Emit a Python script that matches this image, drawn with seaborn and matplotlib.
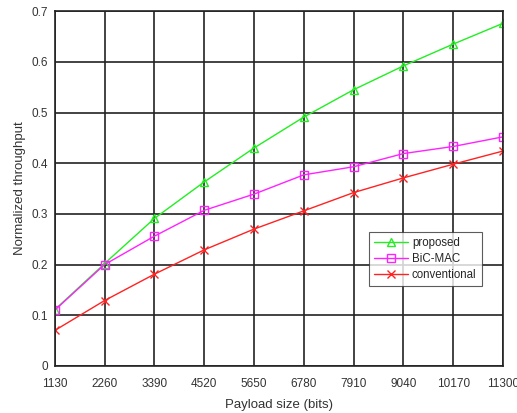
import numpy as np
import pandas as pd
import matplotlib
matplotlib.use("Agg")
import matplotlib.pyplot as plt
import seaborn as sns

# data
payload = [1130, 2260, 3390, 4520, 5650, 6780, 7910, 9040, 10170, 11300]
proposed = [0.111, 0.202, 0.291, 0.363, 0.430, 0.491, 0.545, 0.592, 0.635, 0.676]
bicmac = [0.110, 0.200, 0.256, 0.307, 0.339, 0.377, 0.393, 0.419, 0.433, 0.452]
conventional = [0.070, 0.129, 0.181, 0.229, 0.270, 0.306, 0.342, 0.371, 0.398, 0.424]

series = [
    ("proposed", proposed, "#22ee22", "^"),
    ("BiC-MAC", bicmac, "#ff22ff", "s"),
    ("conventional", conventional, "#ff2222", "x"),
]

sns.set_style("white")
plt.rcParams["font.family"] = ["Liberation Sans", "DejaVu Sans"]

fig = plt.figure(figsize=(5.17, 4.13), dpi=100)
ax = fig.add_axes([0.106, 0.114, 0.867, 0.859])

for name, vals, color, mk in series:
    df = pd.DataFrame({"payload": payload, "throughput": vals})
    sns.lineplot(data=df, x="payload", y="throughput", ax=ax, color=color,
                 marker=mk, markersize=6, markerfacecolor="none",
                 markeredgecolor=color, mew=1.0, linewidth=1.0, label=name)

ax.set_xlim(1130, 11300)
ax.set_ylim(0, 0.7)
ax.set_xticks(payload)
ax.set_yticks(np.arange(0, 0.71, 0.1))
ax.set_yticklabels(["0"] + [f"{v:.1f}" for v in np.arange(0.1, 0.71, 0.1)])
ax.tick_params(labelsize=8.5, colors="#333333", length=0)
ax.tick_params(axis="x", pad=9)
ax.tick_params(axis="y", pad=5)
ax.grid(True, color="#222222", linewidth=1.2)
for s in ax.spines.values():
    s.set_color("#222222")
    s.set_linewidth(1.2)
ax.set_xlabel("Payload size (bits)", fontsize=9.5, color="#333333", labelpad=6)
ax.set_ylabel("Normalized throughput", fontsize=9.5, color="#333333")

leg = ax.legend(loc="upper left", bbox_to_anchor=(0.70, 0.378), fontsize=8.3,
                frameon=True, fancybox=False, handlelength=3.0, borderpad=0.45,
                labelspacing=0.35, handletextpad=0.3, borderaxespad=0)
leg.get_frame().set_edgecolor("#333333")
leg.get_frame().set_linewidth(0.8)

fig.savefig("out.png", dpi=100)
